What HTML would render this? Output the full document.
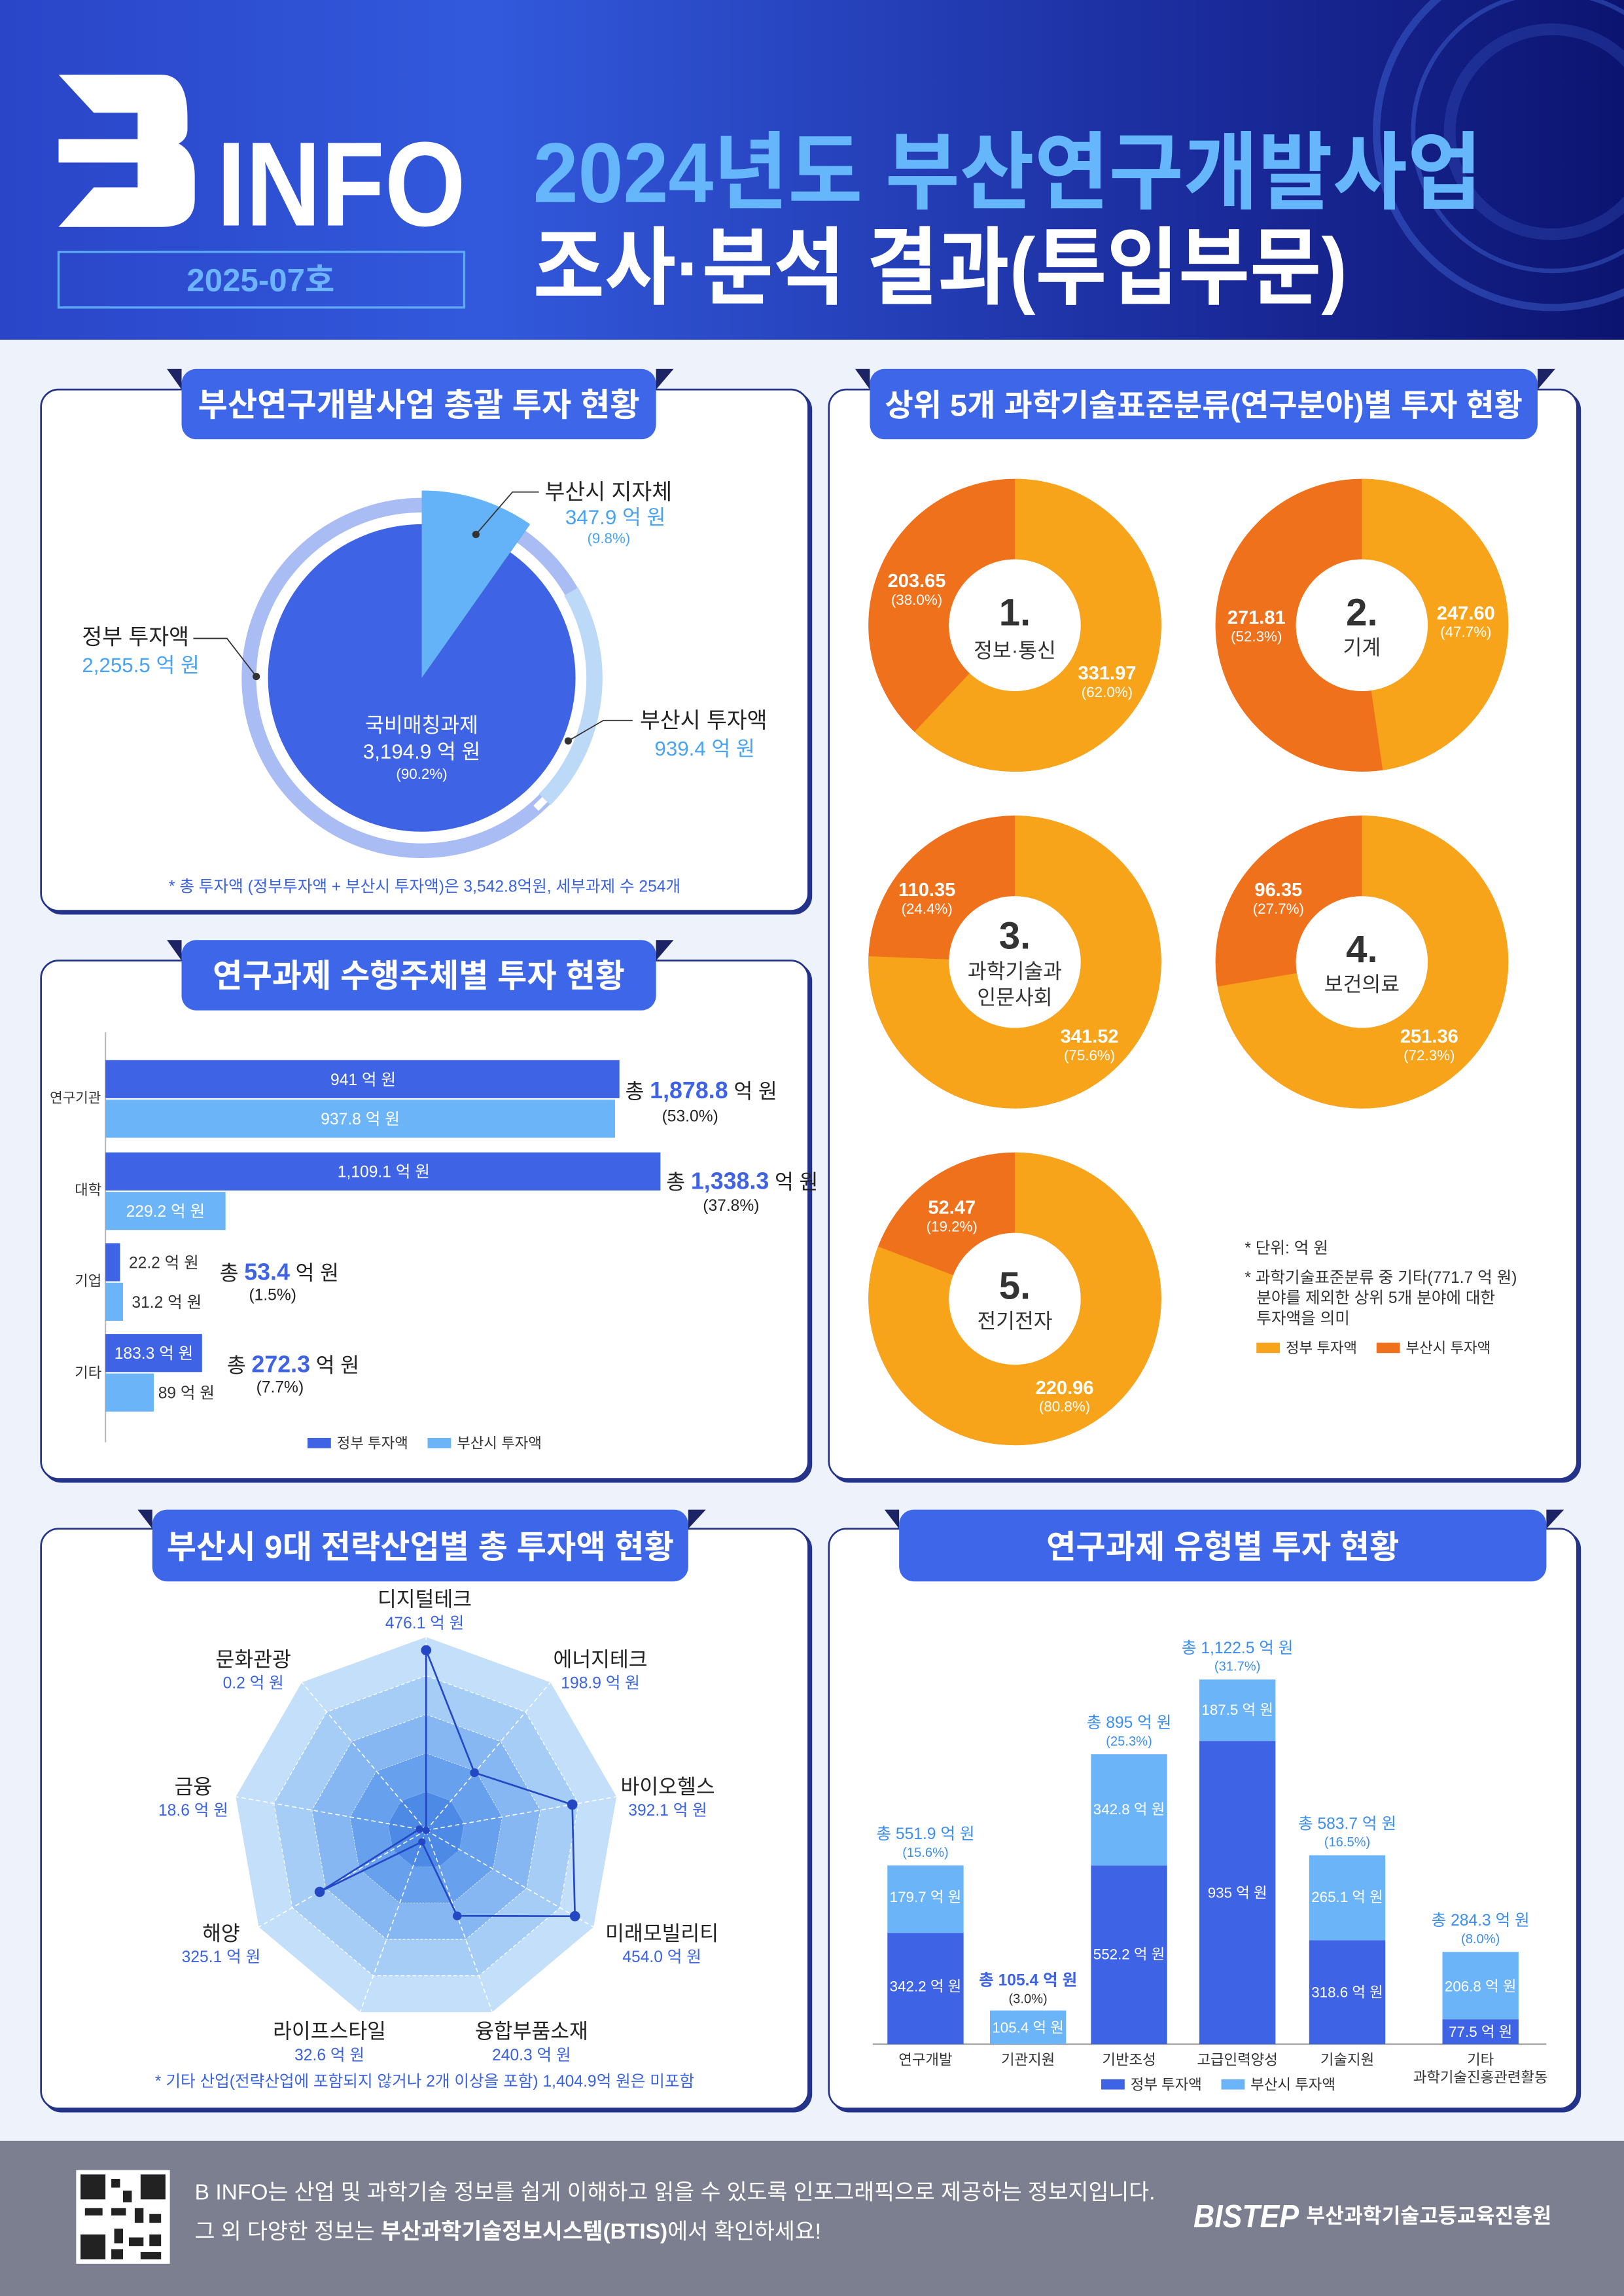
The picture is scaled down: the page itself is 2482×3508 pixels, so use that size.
<!DOCTYPE html>
<html><head><meta charset="utf-8">
<style>
html,body{margin:0;padding:0;}
body{width:2482px;height:3508px;overflow:hidden;}
svg{display:block;font-family:"Liberation Sans","Noto Sans CJK KR",sans-serif;}
.b{font-weight:bold;}
</style></head><body>
<svg width="2482" height="3508" viewBox="0 0 1109 1568" preserveAspectRatio="none" xmlns="http://www.w3.org/2000/svg">
<defs>
<linearGradient id="hg" x1="0" y1="0" x2="1" y2="0">
<stop offset="0" stop-color="#2a45c8"/><stop offset="0.3" stop-color="#3259dc"/><stop offset="0.75" stop-color="#1a2a9a"/><stop offset="1" stop-color="#0c1470"/>
</linearGradient>
<polygon id="non" points="0,-132 84.9,-101.1 130,-23 114.3,66 45.1,124.1 -45.1,124.1 -114.3,66 -130,-23 -84.9,-101.1"/>
</defs>
<!-- header -->
<rect x="0" y="0" width="1109" height="232" fill="url(#hg)"/>
<g fill="none" stroke="#4f7df0" stroke-opacity="0.35">
<circle cx="1060" cy="90" r="120" stroke-width="5"/>
<circle cx="1060" cy="90" r="95" stroke-width="3"/>
<circle cx="1060" cy="90" r="70" stroke-width="8" stroke-opacity="0.2"/>
</g>
<path d="M40,51 H110 Q128,51 128,80 V88 Q128,95 122,98 Q133,104 133,120 V136 Q133,155 110,155 H40 L64,128 H94 V111 H40 V95 H94 V77 H64 Z" fill="#fff"/>
<text x="148" y="154" font-size="82" class="b" fill="#fff" textLength="170" lengthAdjust="spacingAndGlyphs">INFO</text>
<rect x="40" y="172" width="277" height="38" fill="none" stroke="#5fa8f5" stroke-width="1.5"/>
<text x="178" y="199" font-size="22" class="b" fill="#6cb4ff" text-anchor="middle">2025-07호</text>
<text x="364" y="138" font-size="58" class="b" fill="#66b6fc" textLength="648" lengthAdjust="spacingAndGlyphs">2024년도 부산연구개발사업</text>
<text x="364" y="203" font-size="58" class="b" fill="#fff" textLength="556" lengthAdjust="spacingAndGlyphs">조사·분석 결과(투입부문)</text>
<!-- body bg -->
<rect x="0" y="232" width="1109" height="1230" fill="#eef3fb"/>
<!-- panels -->
<g stroke="#24338a" stroke-width="1.2">
<rect x="30" y="268" width="524" height="356" rx="12" fill="#24338a"/>
<rect x="28" y="266" width="524" height="356" rx="12" fill="#fff"/>
<rect x="30" y="658" width="524" height="354" rx="12" fill="#24338a"/>
<rect x="28" y="656" width="524" height="354" rx="12" fill="#fff"/>
<rect x="568" y="268" width="511" height="744" rx="12" fill="#24338a"/>
<rect x="566" y="266" width="511" height="744" rx="12" fill="#fff"/>
<rect x="30" y="1046" width="524" height="396" rx="12" fill="#24338a"/>
<rect x="28" y="1044" width="524" height="396" rx="12" fill="#fff"/>
<rect x="568" y="1046" width="511" height="396" rx="12" fill="#24338a"/>
<rect x="566" y="1044" width="511" height="396" rx="12" fill="#fff"/>
</g>
<!-- pills -->
<g fill="#1c2466">
<polygon points="114,252 124,252 124,266"/><polygon points="448,252 460,252 448,266"/>
<polygon points="584,252 594,252 594,266"/><polygon points="1050,252 1062,252 1050,266"/>
<polygon points="114,642 124,642 124,656"/><polygon points="448,642 460,642 448,656"/>
<polygon points="94,1031 104,1031 104,1044"/><polygon points="470,1031 482,1031 470,1044"/>
<polygon points="604,1031 614,1031 614,1044"/><polygon points="1056,1031 1068,1031 1056,1044"/>
</g>
<g fill="#3e66e8">
<rect x="124" y="252" width="324" height="48" rx="10"/>
<rect x="594" y="252" width="456" height="48" rx="10"/>
<rect x="124" y="642" width="324" height="48" rx="10"/>
<rect x="104" y="1031" width="366" height="49" rx="10"/>
<rect x="614" y="1031" width="442" height="49" rx="10"/>
</g>
<g fill="#fff" font-size="22" class="b" text-anchor="middle">
<text x="286" y="284">부산연구개발사업 총괄 투자 현황</text>
<text x="822" y="284" font-size="21">상위 5개 과학기술표준분류(연구분야)별  투자 현황</text>
<text x="286" y="674">연구과제 수행주체별 투자 현황</text>
<text x="287" y="1064">부산시 9대 전략산업별 총 투자액 현황</text>
<text x="835" y="1064">연구과제 유형별 투자 현황</text>
</g>
<!-- panel1 -->
<circle cx="288" cy="463" r="118" fill="none" stroke="#a9bcf3" stroke-width="10"/>
<path d="M390,404 A118,118 0 0 1 372,546" fill="none" stroke="#bcd9f8" stroke-width="11"/>
<line x1="372" y1="546" x2="366" y2="552" stroke="#fff" stroke-width="5"/>
<circle cx="288" cy="463" r="105" fill="#3e63e4"/>
<path d="M288,463 L362,358 L330,376 Z" fill="#1e2a5c"/>
<path d="M288,463 L288,335 A128,128 0 0 1 362,358 Z" fill="#64b2f7"/>
<g font-size="13" fill="#333" text-anchor="middle">
<text x="288" y="500" fill="#fff" font-size="14">국비매칭과제</text>
<text x="288" y="518" fill="#fff" font-size="14">3,194.9 억 원</text>
<text x="288" y="532" fill="#fff" font-size="10">(90.2%)</text>
</g>
<circle cx="325" cy="365" r="2.5" fill="#333"/>
<polyline points="325,365 350,336 368,336" fill="none" stroke="#333" stroke-width="0.8"/>
<text x="372" y="341" font-size="15" fill="#222">부산시 지자체</text>
<text x="386" y="358" font-size="14" fill="#4aa3f0">347.9 억 원</text>
<text x="401" y="371" font-size="10" fill="#4aa3f0">(9.8%)</text>
<circle cx="175" cy="462" r="2.5" fill="#333"/>
<polyline points="175,462 155,436 132,436" fill="none" stroke="#333" stroke-width="0.8"/>
<text x="56" y="440" font-size="15" fill="#222">정부 투자액</text>
<text x="56" y="459" font-size="14" fill="#4aa3f0">2,255.5 억 원</text>
<circle cx="388" cy="506" r="2.5" fill="#333"/>
<polyline points="388,506 412,492 432,492" fill="none" stroke="#333" stroke-width="0.8"/>
<text x="437" y="497" font-size="15" fill="#222">부산시 투자액</text>
<text x="447" y="516" font-size="14" fill="#4aa3f0">939.4 억 원</text>
<text x="290" y="609" font-size="11" fill="#3b63e0" text-anchor="middle">* 총 투자액 (정부투자액 + 부산시 투자액)은 3,542.8억원, 세부과제 수 254개</text>
<!-- panel2 -->
<line x1="72" y1="705" x2="72" y2="985" stroke="#bbb" stroke-width="1"/>
<g fill="#3e63e4">
<rect x="72" y="724" width="351" height="26"/><rect x="72" y="787" width="379" height="26"/>
<rect x="72" y="849" width="10" height="26"/><rect x="72" y="911" width="66" height="26"/>
</g>
<g fill="#6cb4f8">
<rect x="72" y="751" width="348" height="26"/><rect x="72" y="814" width="82" height="26"/>
<rect x="72" y="876" width="12" height="26"/><rect x="72" y="938" width="33" height="26"/>
</g>
<g font-size="10" fill="#333">
<text x="34" y="753" font-size="9.5">연구기관</text><text x="51" y="816">대학</text><text x="51" y="878">기업</text><text x="51" y="941">기타</text>
</g>
<g font-size="11" fill="#fff" text-anchor="middle">
<text x="248" y="741">941 억 원</text><text x="246" y="768">937.8 억 원</text>
<text x="262" y="804">1,109.1 억 원</text><text x="113" y="831">229.2 억 원</text>
<text x="105" y="928">183.3 억 원</text>
</g>
<g font-size="11" fill="#333">
<text x="88" y="866">22.2 억 원</text><text x="90" y="893">31.2 억 원</text><text x="108" y="955">89 억 원</text>
</g>
<g font-size="14" fill="#222">
<text x="427" y="750">총 <tspan fill="#3e63e4" class="b" font-size="16">1,878.8</tspan> 억 원</text>
<text x="452" y="766" font-size="11">(53.0%)</text>
<text x="455" y="812">총 <tspan fill="#3e63e4" class="b" font-size="16">1,338.3</tspan> 억 원</text>
<text x="480" y="827" font-size="11">(37.8%)</text>
<text x="150" y="874">총 <tspan fill="#3e63e4" class="b" font-size="16">53.4</tspan> 억 원</text>
<text x="170" y="888" font-size="11">(1.5%)</text>
<text x="155" y="937">총 <tspan fill="#3e63e4" class="b" font-size="16">272.3</tspan> 억 원</text>
<text x="175" y="951" font-size="11">(7.7%)</text>
</g>
<rect x="210" y="982" width="16" height="7" fill="#3e63e4"/><text x="230" y="989" font-size="10" fill="#333">정부 투자액</text>
<rect x="292" y="982" width="16" height="7" fill="#6cb4f8"/><text x="312" y="989" font-size="10" fill="#333">부산시 투자액</text>
<!-- panel3 donuts -->
<g fill="none" stroke-width="55">
<circle cx="693" cy="427" r="72.5" stroke="#f0711c"/>
<circle cx="693" cy="427" r="72.5" stroke="#f7a41b" stroke-dasharray="282.4 1000" transform="rotate(-90 693 427)"/>
<circle cx="930" cy="427" r="72.5" stroke="#f0711c"/>
<circle cx="930" cy="427" r="72.5" stroke="#f7a41b" stroke-dasharray="217.3 1000" transform="rotate(-90 930 427)"/>
<circle cx="693" cy="657" r="72.5" stroke="#f0711c"/>
<circle cx="693" cy="657" r="72.5" stroke="#f7a41b" stroke-dasharray="344.4 1000" transform="rotate(-90 693 657)"/>
<circle cx="930" cy="657" r="72.5" stroke="#f0711c"/>
<circle cx="930" cy="657" r="72.5" stroke="#f7a41b" stroke-dasharray="329.3 1000" transform="rotate(-90 930 657)"/>
<circle cx="693" cy="887" r="72.5" stroke="#f0711c"/>
<circle cx="693" cy="887" r="72.5" stroke="#f7a41b" stroke-dasharray="368.0 1000" transform="rotate(-90 693 887)"/>
</g>
<g fill="#fff">
<circle cx="693" cy="427" r="45"/><circle cx="930" cy="427" r="45"/><circle cx="693" cy="657" r="45"/><circle cx="930" cy="657" r="45"/><circle cx="693" cy="887" r="45"/>
</g>
<g text-anchor="middle" fill="#333">
<text x="693" y="427" font-size="26" class="b">1.</text><text x="693" y="449" font-size="14">정보·통신</text>
<text x="930" y="427" font-size="26" class="b">2.</text><text x="930" y="447" font-size="14">기계</text>
<text x="693" y="648" font-size="26" class="b">3.</text><text x="693" y="668" font-size="14">과학기술과</text><text x="693" y="686" font-size="14">인문사회</text>
<text x="930" y="657" font-size="26" class="b">4.</text><text x="930" y="677" font-size="14">보건의료</text>
<text x="693" y="887" font-size="26" class="b">5.</text><text x="693" y="907" font-size="14">전기전자</text>
</g>
<g fill="#fff" text-anchor="middle">
<text x="626" y="401" font-size="13" class="b">203.65</text><text x="626" y="413" font-size="10">(38.0%)</text>
<text x="756" y="464" font-size="13" class="b">331.97</text><text x="756" y="476" font-size="10">(62.0%)</text>
<text x="858" y="426" font-size="13" class="b">271.81</text><text x="858" y="438" font-size="10">(52.3%)</text>
<text x="1001" y="423" font-size="13" class="b">247.60</text><text x="1001" y="435" font-size="10">(47.7%)</text>
<text x="633" y="612" font-size="13" class="b">110.35</text><text x="633" y="624" font-size="10">(24.4%)</text>
<text x="744" y="712" font-size="13" class="b">341.52</text><text x="744" y="724" font-size="10">(75.6%)</text>
<text x="873" y="612" font-size="13" class="b">96.35</text><text x="873" y="624" font-size="10">(27.7%)</text>
<text x="976" y="712" font-size="13" class="b">251.36</text><text x="976" y="724" font-size="10">(72.3%)</text>
<text x="650" y="829" font-size="13" class="b">52.47</text><text x="650" y="841" font-size="10">(19.2%)</text>
<text x="727" y="952" font-size="13" class="b">220.96</text><text x="727" y="964" font-size="10">(80.8%)</text>
</g>
<g font-size="11" fill="#333">
<text x="850" y="856">* 단위: 억 원</text>
<text x="850" y="876">* 과학기술표준분류 중 기타(771.7 억 원)</text>
<text x="858" y="890">분야를 제외한 상위 5개 분야에 대한</text>
<text x="858" y="904">투자액을 의미</text>
<rect x="858" y="917" width="16" height="7" fill="#f7a41b"/><text x="878" y="924" font-size="10">정부 투자액</text>
<rect x="940" y="917" width="16" height="7" fill="#f0711c"/><text x="960" y="924" font-size="10">부산시 투자액</text>
</g>
<!-- panel4 radar -->
<use href="#non" transform="translate(291,1250)" fill="#c4dff9"/>
<use href="#non" transform="translate(291,1250) scale(0.8)" fill="#a6cdf6"/>
<use href="#non" transform="translate(291,1250) scale(0.6)" fill="#86b7f2"/>
<use href="#non" transform="translate(291,1250) scale(0.4)" fill="#67a0ec"/>
<use href="#non" transform="translate(291,1250) scale(0.2)" fill="#4d8ae6"/>
<g stroke="#fff" stroke-width="0.7" stroke-dasharray="3 2" fill="none">
<use href="#non" transform="translate(291,1250) scale(0.8)"/>
<use href="#non" transform="translate(291,1250) scale(0.6)"/>
<use href="#non" transform="translate(291,1250) scale(0.4)"/>
<use href="#non" transform="translate(291,1250) scale(0.2)"/>
<path d="M291,1250 L291,1118 M291,1250 L375.9,1148.9 M291,1250 L421,1227 M291,1250 L405.3,1316 M291,1250 L336.1,1374.1 M291,1250 L245.9,1374.1 M291,1250 L176.7,1316 M291,1250 L161,1227 M291,1250 L206.1,1148.9"/>
</g>
<polygon points="291,1127 324,1210.6 390.8,1232.4 392.6,1308.6 312.2,1308.4 288.1,1257.9 218.3,1292 286.3,1249.2 291,1250" fill="none" stroke="#2448c4" stroke-width="1.2"/>
<g fill="#2448c4">
<circle cx="291" cy="1127" r="3.5"/><circle cx="324" cy="1210.6" r="3"/><circle cx="390.8" cy="1232.4" r="3.5"/><circle cx="392.6" cy="1308.6" r="3.5"/><circle cx="312.2" cy="1308.4" r="3"/><circle cx="288.1" cy="1257.9" r="2.5"/><circle cx="218.3" cy="1292" r="3.5"/><circle cx="286.3" cy="1249.2" r="2.5"/><circle cx="291" cy="1250" r="2.5"/>
</g>
<g font-size="14" fill="#222" text-anchor="middle">
<text x="290" y="1097">디지털테크</text><text x="290" y="1112" font-size="11" fill="#3b63e0">476.1 억 원</text>
<text x="410" y="1138">에너지테크</text><text x="410" y="1153" font-size="11" fill="#3b63e0">198.9 억 원</text>
<text x="456" y="1225">바이오헬스</text><text x="456" y="1240" font-size="11" fill="#3b63e0">392.1 억 원</text>
<text x="452" y="1325">미래모빌리티</text><text x="452" y="1340" font-size="11" fill="#3b63e0">454.0 억 원</text>
<text x="363" y="1392">융합부품소재</text><text x="363" y="1407" font-size="11" fill="#3b63e0">240.3 억 원</text>
<text x="225" y="1392">라이프스타일</text><text x="225" y="1407" font-size="11" fill="#3b63e0">32.6 억 원</text>
<text x="151" y="1325">해양</text><text x="151" y="1340" font-size="11" fill="#3b63e0">325.1 억 원</text>
<text x="132" y="1225">금융</text><text x="132" y="1240" font-size="11" fill="#3b63e0">18.6 억 원</text>
<text x="173" y="1138">문화관광</text><text x="173" y="1153" font-size="11" fill="#3b63e0">0.2 억 원</text>
</g>
<text x="290" y="1425" font-size="11" fill="#3b63e0" text-anchor="middle">* 기타 산업(전략산업에 포함되지 않거나 2개 이상을 포함) 1,404.9억 원은 미포함</text>
<!-- panel5 bars -->
<line x1="596" y1="1396" x2="1056" y2="1396" stroke="#999" stroke-width="0.8"/>
<g fill="#3e63e4">
<rect x="606" y="1320" width="52" height="76"/>
<rect x="745" y="1274" width="52" height="122"/>
<rect x="819" y="1189" width="52" height="207"/>
<rect x="894" y="1325" width="52" height="71"/>
<rect x="985" y="1379" width="52" height="17"/>
</g>
<g fill="#6cb4f8">
<rect x="606" y="1274" width="52" height="46"/>
<rect x="676" y="1373" width="52" height="23"/>
<rect x="745" y="1198" width="52" height="76"/>
<rect x="819" y="1147" width="52" height="42"/>
<rect x="894" y="1267" width="52" height="58"/>
<rect x="985" y="1333" width="52" height="46"/>
</g>
<g font-size="10" fill="#fff" text-anchor="middle">
<text x="632" y="1360">342.2 억 원</text><text x="632" y="1299">179.7 억 원</text>
<text x="702" y="1388">105.4 억 원</text>
<text x="771" y="1338">552.2 억 원</text><text x="771" y="1239">342.8 억 원</text>
<text x="845" y="1296">935 억 원</text><text x="845" y="1171">187.5 억 원</text>
<text x="920" y="1364">318.6 억 원</text><text x="920" y="1299">265.1 억 원</text>
<text x="1011" y="1391">77.5 억 원</text><text x="1011" y="1360">206.8 억 원</text>
</g>
<g font-size="11" fill="#3b8ef0" text-anchor="middle">
<text x="632" y="1256">총 551.9 억 원</text><text x="632" y="1268" font-size="9">(15.6%)</text>
<text x="702" y="1356" fill="#3e63e4" class="b">총 105.4 억 원</text><text x="702" y="1368" font-size="9" fill="#333">(3.0%)</text>
<text x="771" y="1180">총 895 억 원</text><text x="771" y="1192" font-size="9">(25.3%)</text>
<text x="845" y="1129">총 1,122.5 억 원</text><text x="845" y="1141" font-size="9">(31.7%)</text>
<text x="920" y="1249">총 583.7 억 원</text><text x="920" y="1261" font-size="9">(16.5%)</text>
<text x="1011" y="1315">총 284.3 억 원</text><text x="1011" y="1327" font-size="9">(8.0%)</text>
</g>
<g font-size="10" fill="#333" text-anchor="middle">
<text x="632" y="1410">연구개발</text><text x="702" y="1410">기관지원</text><text x="771" y="1410">기반조성</text>
<text x="845" y="1410">고급인력양성</text><text x="920" y="1410">기술지원</text>
<text x="1011" y="1410">기타</text><text x="1011" y="1422">과학기술진흥관련활동</text>
</g>
<rect x="752" y="1420" width="16" height="7" fill="#3e63e4"/><text x="772" y="1427" font-size="10" fill="#333">정부 투자액</text>
<rect x="834" y="1420" width="16" height="7" fill="#6cb4f8"/><text x="854" y="1427" font-size="10" fill="#333">부산시 투자액</text>
<!-- footer -->
<rect x="0" y="1462" width="1109" height="106" fill="#7b7f8f"/>
<rect x="52" y="1482" width="64" height="64" fill="#fff"/>
<g fill="#222">
<rect x="55" y="1485" width="17" height="17"/><rect x="96" y="1485" width="17" height="17"/><rect x="55" y="1526" width="17" height="17"/>
<rect x="76" y="1488" width="6" height="6"/><rect x="84" y="1496" width="6" height="8"/><rect x="76" y="1508" width="10" height="5"/>
<rect x="92" y="1508" width="6" height="10"/><rect x="102" y="1512" width="8" height="6"/><rect x="78" y="1522" width="6" height="10"/>
<rect x="88" y="1528" width="10" height="6"/><rect x="102" y="1526" width="8" height="8"/><rect x="96" y="1538" width="14" height="5"/>
<rect x="58" y="1508" width="12" height="5"/><rect x="76" y="1536" width="8" height="7"/>
</g>
<text x="133" y="1502" font-size="15" fill="#fff">B INFO는 산업 및 과학기술 정보를 쉽게 이해하고 읽을 수 있도록 인포그래픽으로 제공하는 정보지입니다.</text>
<text x="133" y="1529" font-size="15" fill="#fff">그 외 다양한 정보는 <tspan class="b">부산과학기술정보시스템(BTIS)</tspan>에서 확인하세요!</text>
<text x="815" y="1521" font-size="22" class="b" fill="#fff" font-style="italic" textLength="72" lengthAdjust="spacingAndGlyphs">BISTEP</text>
<text x="892" y="1518" font-size="14" class="b" fill="#fff">부산과학기술고등교육진흥원</text>
</svg>
</body></html>
